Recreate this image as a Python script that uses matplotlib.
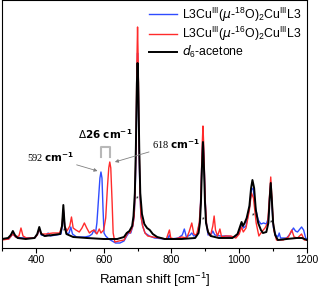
import numpy as np
import matplotlib
matplotlib.use('Agg')
import matplotlib.pyplot as plt
from matplotlib.ticker import MultipleLocator

plt.rcParams['font.family'] = ['Liberation Sans', 'DejaVu Sans']
plt.rcParams['mathtext.fontset'] = 'dejavusans'

# spectra (x in cm-1, intensity in arbitrary units)
blue_x = [300, 320, 332, 340, 360, 396, 404, 410, 416, 430, 436, 442, 460, 474, 478, 481, 485, 492,
          498, 503, 508, 520, 545, 558, 566, 571, 576, 580, 585, 589, 592, 595, 598, 601, 606, 615,
          625, 635, 648, 660, 668, 674, 680, 686, 690, 693, 696, 698, 700, 702, 704, 707, 710, 715,
          722, 735, 750, 780,
          790, 794, 798, 820, 832, 838, 844, 855, 860, 866, 876, 884, 887, 890, 893, 896, 899, 902,
          908, 918, 922, 928, 945, 960, 990, 1000, 1007, 1012, 1020, 1030, 1036, 1041, 1048, 1056,
          1064, 1072, 1080, 1086, 1090, 1093, 1096, 1101, 1108, 1114, 1118, 1122, 1140, 1150, 1160,
          1166, 1172, 1184, 1190, 1196, 1200]
blue_y = [9, 9, 14, 11, 10, 10, 13, 19, 13, 12, 15, 12, 13, 14, 22, 38, 22, 14,
          15, 21, 14, 11, 11, 12, 14, 18, 15, 25, 50, 70, 76, 70, 40, 15, 12, 9,
          7, 5, 5, 7, 12, 15, 15, 22, 32, 55, 105, 170, 195, 170, 105, 55, 32, 22,
          15, 12, 10, 9,
          10, 13, 9, 10, 13, 19, 11, 13, 15, 12, 13, 28, 55, 90, 112, 90, 55, 28,
          13, 14, 17, 13, 12, 12, 11, 16, 24, 20, 22, 40, 58, 60, 40, 28,
          24, 25, 24, 30, 52, 66, 45, 20, 13, 11, 15, 10, 10, 14, 20,
          17, 16, 21, 18, 10, 9]

red_x = [300, 320, 332, 340, 350, 356, 362, 372, 396, 404, 410, 416, 430, 450, 470, 477, 481, 485,
         492, 500, 505, 510, 518, 528, 536, 543, 550, 558, 565, 572, 580, 587, 592, 600, 606, 611,
         615, 618, 621, 625, 628, 633, 645, 660, 668, 672, 678, 686, 690, 693, 696, 698, 700, 702,
         704, 707, 710, 715, 722, 730, 745, 765, 785, 790, 794, 798, 810, 830, 845, 852, 860, 866,
         874, 882, 886, 889, 891, 893, 895, 897, 900, 904, 910, 915, 922, 926, 930, 936, 943, 948,
         960, 975, 990, 1000, 1007, 1012, 1020, 1030, 1036, 1042, 1050, 1058, 1066, 1076, 1084,
         1089, 1093, 1097, 1102, 1110, 1130, 1145, 1155, 1162, 1172, 1184, 1192, 1200]
red_y = [8, 9, 14, 11, 12, 20, 12, 10, 10, 13, 19, 14, 14, 15, 15, 22, 38, 22,
         17, 22, 31, 20, 18, 16, 20, 25, 20, 15, 17, 18, 14, 19, 15, 18, 30, 60,
         80, 86, 80, 45, 15, 6, 7, 8, 13, 16, 15, 22, 32, 58, 115, 185, 221, 185,
         115, 58, 32, 22, 15, 12, 11, 10, 9, 14, 18, 10, 9, 11, 10, 16, 25, 14,
         13, 25, 45, 80, 105, 122, 105, 80, 45, 22, 14, 12, 22, 32, 18, 12, 19, 11,
         12, 12, 10, 14, 21, 16, 20, 38, 55, 50, 25, 12, 16, 20, 25,
         50, 71, 45, 18, 8, 8, 11, 18, 11, 10, 14, 8, 8]

black_x = [300, 318, 326, 332, 338, 346, 370, 396, 404, 410, 416, 426, 450, 472, 477, 481, 485, 490,
           510, 550, 600, 640, 660, 668, 676, 684, 688, 692, 695, 698, 700, 702, 705, 708, 713, 720,
           728, 736, 745, 758, 780, 830, 870, 880, 884, 887, 890, 893, 896, 899, 902, 908, 916, 940,
           980, 995, 1003, 1007, 1011, 1016, 1022, 1030, 1035, 1039, 1044, 1049, 1056, 1064, 1070,
           1080, 1086, 1090, 1093, 1096, 1100, 1106, 1114, 1140, 1170, 1185, 1200]
black_y = [9, 10, 13, 17, 13, 10, 9, 10, 14, 21, 14, 12, 13, 14, 22, 43, 22, 14,
           11, 10, 9, 9, 11, 15, 17, 22, 32, 55, 100, 165, 185, 165, 100, 55, 34, 24,
           20, 18, 14, 11, 9, 9, 10, 15, 25, 45, 80, 106, 80, 45, 25, 16, 12, 10,
           10, 14, 22, 26, 22, 25, 30, 42, 60, 68, 60, 38, 25, 18, 15,
           16, 25, 50, 65, 50, 25, 13, 8, 9, 10, 10, 8]

labels = [r'L3Cu$^{\mathregular{III}}$($\mathit{\mu}$-$^{\mathregular{18}}$O)$_{\mathregular{2}}$Cu$^{\mathregular{III}}$L3',
          r'L3Cu$^{\mathregular{III}}$($\mathit{\mu}$-$^{\mathregular{16}}$O)$_{\mathregular{2}}$Cu$^{\mathregular{III}}$L3',
          r'$\mathit{d}_{\mathregular{6}}$-acetone']

star_x = [484, 700, 893, 1040, 1093]
star_y = [17, 49, 28, 32, 25]

fig = plt.figure(figsize=(3.2, 2.89), dpi=100)
ax = fig.add_axes([2 / 320, 41 / 289, 305 / 320, 248 / 289])

ax.plot(blue_x, blue_y, color='#2f4cff', lw=1.0, label=labels[0])
ax.plot(red_x, red_y, color='#ff2b2b', lw=1.0, label=labels[1])
ax.plot(black_x, black_y, color='black', lw=1.4, label=labels[2])

for sx, sy in zip(star_x, star_y):
    ax.text(sx, sy, '*', fontsize=5, ha='center', va='center', color='black')

# peak labels
ax.annotate(r'592 $\mathbf{cm^{-1}}$', xy=(582, 77), xytext=(512, 84),
            ha='right', va='bottom', fontsize=7.5, family=['Liberation Serif'],
            arrowprops=dict(arrowstyle='-|>', color='#808080', lw=0.6,
                            mutation_scale=5, shrinkA=0, shrinkB=0))
ax.annotate(r'618 $\mathbf{cm^{-1}}$', xy=(633, 86), xytext=(742, 97),
            ha='left', va='bottom', fontsize=7.5, family=['Liberation Serif'],
            arrowprops=dict(arrowstyle='-|>', color='#808080', lw=0.6,
                            mutation_scale=5, shrinkA=0, shrinkB=0))
ax.plot([592, 592, 619, 619], [91, 101, 101, 91], color='#b8b8b8', lw=1.5)
ax.text(605, 107, r'$\Delta\mathbf{26\ cm^{-1}}$', ha='center', va='bottom', fontsize=7.5)

ax.set_xlim(300, 1200)
ax.set_ylim(0, 248)
ax.set_yticks([])
ax.xaxis.set_major_locator(MultipleLocator(200))
ax.xaxis.set_minor_locator(MultipleLocator(100))
ax.tick_params(axis='x', which='major', direction='out', length=3.5, width=0.8, labelsize=7.5, pad=1.5)
ax.tick_params(axis='x', which='minor', direction='out', length=2, width=0.8)
for sp in ax.spines.values():
    sp.set_linewidth(0.8)
ax.set_xlabel(r'Raman shift [cm$^{\mathregular{-1}}$]', fontsize=9.5, labelpad=4)

ax.legend(loc='upper right', frameon=False, fontsize=8.8, handlelength=2.3,
          handletextpad=0.4, labelspacing=0.1, borderaxespad=0.05)

fig.savefig('out.png', dpi=100)
